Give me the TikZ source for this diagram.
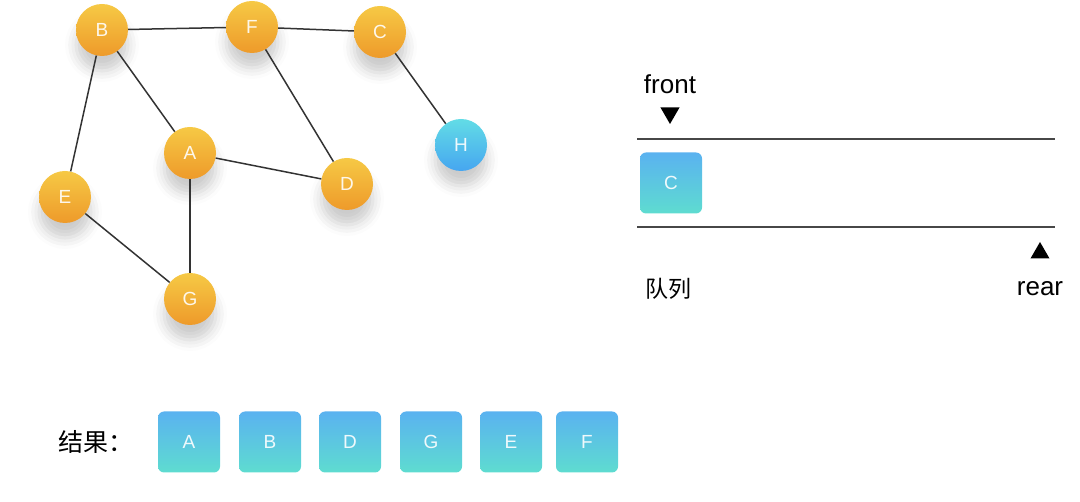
\documentclass[tikz,border=0pt]{standalone}
\usepackage{fontspec}
\setmainfont{Liberation Sans}
\newfontfamily\cjk{Noto Sans CJK SC}
\usetikzlibrary{shapes.geometric,shadows.blur}
\definecolor{otop}{HTML}{F6C945}
\definecolor{obot}{HTML}{EE9A2A}
\definecolor{btop}{HTML}{5AB2F0}
\definecolor{bbot}{HTML}{5EDCD0}
\definecolor{htop}{HTML}{62DCE6}
\definecolor{hbot}{HTML}{46A6F0}
\definecolor{edge}{HTML}{333333}
\tikzset{
  vert/.style={circle,minimum size=52pt,inner sep=0pt,text=white,text opacity=0.9,font=\fontsize{19}{19}\selectfont,
    top color=otop,bottom color=obot,
    blur shadow={shadow xshift=0pt,shadow yshift=-15pt,shadow blur radius=11pt,shadow opacity=20}},
  hvert/.style={vert,top color=htop,bottom color=hbot},
  qbox/.style={rounded corners=6pt,minimum width=62pt,minimum height=61pt,inner sep=0pt,
    text=white,text opacity=0.9,font=\fontsize{19}{19}\selectfont,top color=btop,bottom color=bbot},
  link/.style={draw=edge,line width=1.5pt},
  rail/.style={draw=edge!90,line width=1.4pt},
  tri/.style={regular polygon,regular polygon sides=3,fill=black,minimum size=22pt,inner sep=0pt},
  lbl/.style={font=\fontsize{26}{26}\selectfont,text=black,inner sep=0pt},
}
\begin{document}
\begin{tikzpicture}[x=1pt,y=-1pt]
\useasboundingbox (0,0) rectangle (1080,502);
\node[vert] (B) at (102,30) {B};
\node[vert] (F) at (252,27) {F};
\node[vert] (C) at (380,32) {C};
\node[hvert] (H) at (461,145) {H};
\node[vert] (A) at (190,153) {A};
\node[vert] (D) at (347,184) {D};
\node[vert] (E) at (65,197) {E};
\node[vert] (G) at (190,299) {G};
\draw[link] (B) -- (F);
\draw[link] (F) -- (C);
\draw[link] (C) -- (H);
\draw[link] (B) -- (A);
\draw[link] (B) -- (E);
\draw[link] (F) -- (D);
\draw[link] (A) -- (D);
\draw[link] (A) -- (G);
\draw[link] (E) -- (G);
% queue
\coordinate (t1) at (637,139);
\coordinate (t2) at (1055,139);
\coordinate (b1) at (637,227);
\coordinate (b2) at (1055,227);
\draw[rail] (t1) -- (t2);
\draw[rail] (b1) -- (b2);
\node[qbox] (QC) at (671,183) {C};
\node[lbl] (front) at (670,84) {front};
\node[tri,shape border rotate=180] (ftri) at (670,113) {};
\node[tri] (rtri) at (1040,253) {};
\node[lbl] (rear) at (1040,289) {rear};
\node[font=\cjk\fontsize{23}{23}\selectfont,inner sep=0pt] (queue) at (668,289) {队列};
% result
\node[font=\cjk\fontsize{25}{25}\selectfont,inner sep=0pt] (res) at (96,442) {结果：};
\node[qbox] (RA) at (189,442) {A};
\node[qbox] (RB) at (270,442) {B};
\node[qbox] (RD) at (350,442) {D};
\node[qbox] (RG) at (431,442) {G};
\node[qbox] (RE) at (511,442) {E};
\node[qbox] (RF) at (587,442) {F};
\end{tikzpicture}
\end{document}
